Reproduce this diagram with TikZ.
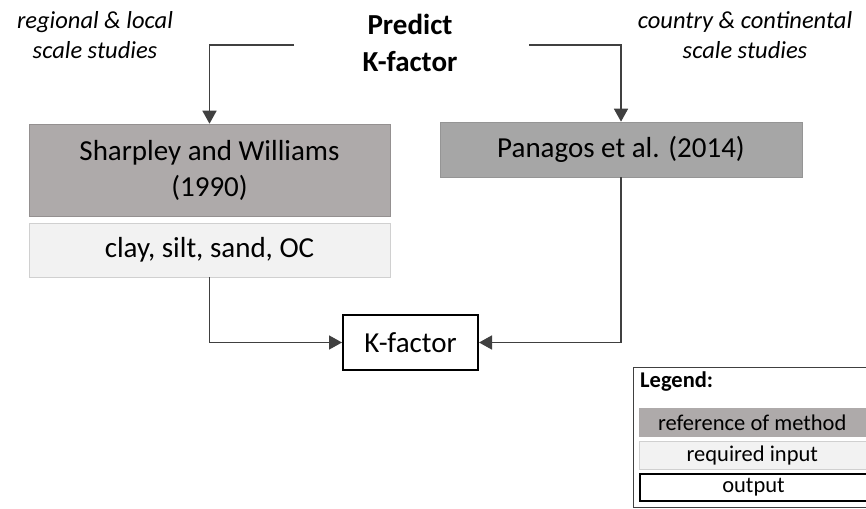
\documentclass[tikz,border=0pt]{standalone}
\usepackage{fontspec}
\setmainfont{Carlito}
\usetikzlibrary{arrows.meta}
\definecolor{refgray}{HTML}{AEAAAA}
\definecolor{pangray}{HTML}{A6A6A6}
\definecolor{inlight}{HTML}{F2F2F2}
\definecolor{inborder}{HTML}{D0D0D0}
\definecolor{linegray}{HTML}{404040}
\tikzset{
  boxbase/.style={rectangle, inner sep=0pt, align=center, text=black,
    font=\fontsize{29}{36}\selectfont},
  refbox/.style={boxbase, fill=refgray, draw=refgray!85!black, line width=0.6pt},
  panbox/.style={boxbase, fill=pangray, draw=pangray!90!black, line width=0.6pt},
  inbox/.style={boxbase, fill=inlight, draw=inborder, line width=0.8pt},
  outbox/.style={boxbase, fill=white, draw=black, line width=2pt},
  conn/.style={draw=linegray, line width=1.6pt, -{Triangle[length=13pt,width=14pt]}},
  scalelbl/.style={align=center, inner sep=0pt, font=\fontsize{24.5}{30}\selectfont\itshape},
  legrow/.style={rectangle, inner sep=0pt, text=black, font=\fontsize{22.5}{26}\selectfont}
}
\begin{document}
\begin{tikzpicture}[x=1pt,y=-1pt]
\useasboundingbox (0,0) rectangle (866,508);
% header
\node[align=center, inner sep=0pt, font=\fontsize{29}{37}\selectfont\bfseries] (head) at (410,43) {Predict\\K-factor};
\node[scalelbl] (lefttxt) at (95,35) {regional \& local\\scale studies};
\node[scalelbl] (righttxt) at (745,35) {country \& continental\\scale studies};
% boxes
\node[refbox, minimum width=361pt, minimum height=92pt] (sw) at (209.5,170) {Sharpley and Williams\\(1990)};
\node[inbox, minimum width=361pt, minimum height=54pt] (clay) at (209.5,250) {clay, silt, sand, OC};
\node[panbox, minimum width=362pt, minimum height=55pt] (pan) at (621,149.5) {Panagos et al. (2014)};
\node[outbox, minimum width=135pt, minimum height=55pt] (kf) at (410.5,342.5) {K-factor};
% connectors
\coordinate (hl) at (294,45);
\coordinate (hr) at (529,45);
\draw[conn] (hl) -| (sw.north);
\draw[conn] (hr) -| (pan.north);
\draw[conn] (clay.south) |- (kf.west);
\draw[conn] (pan.south) |- (kf.east);
% legend
\node[rectangle, draw=linegray, line width=1pt, fill=white, minimum width=240pt, minimum height=140pt, anchor=north west, inner sep=0pt] (legbox) at (633,367) {};
\node[anchor=west, inner sep=0pt, font=\fontsize{22.5}{26}\selectfont\bfseries] (legtitle) at (640,382) {Legend:};
\node[legrow, fill=refgray, minimum width=232pt, minimum height=29pt, anchor=north west] (l1) at (639,408) {\hspace*{-3pt}reference of method\hspace*{3pt}};
\node[legrow, fill=inlight, draw=inborder, line width=0.6pt, minimum width=232pt, minimum height=28pt, anchor=north west] (l2) at (639,441) {\hspace*{-3pt}required input\hspace*{3pt}};
\node[legrow, fill=white, draw=black, line width=2pt, minimum width=233pt, minimum height=27pt, anchor=north west] (l3) at (639,473) {\hspace*{-3pt}output\hspace*{3pt}};
\end{tikzpicture}
\end{document}
